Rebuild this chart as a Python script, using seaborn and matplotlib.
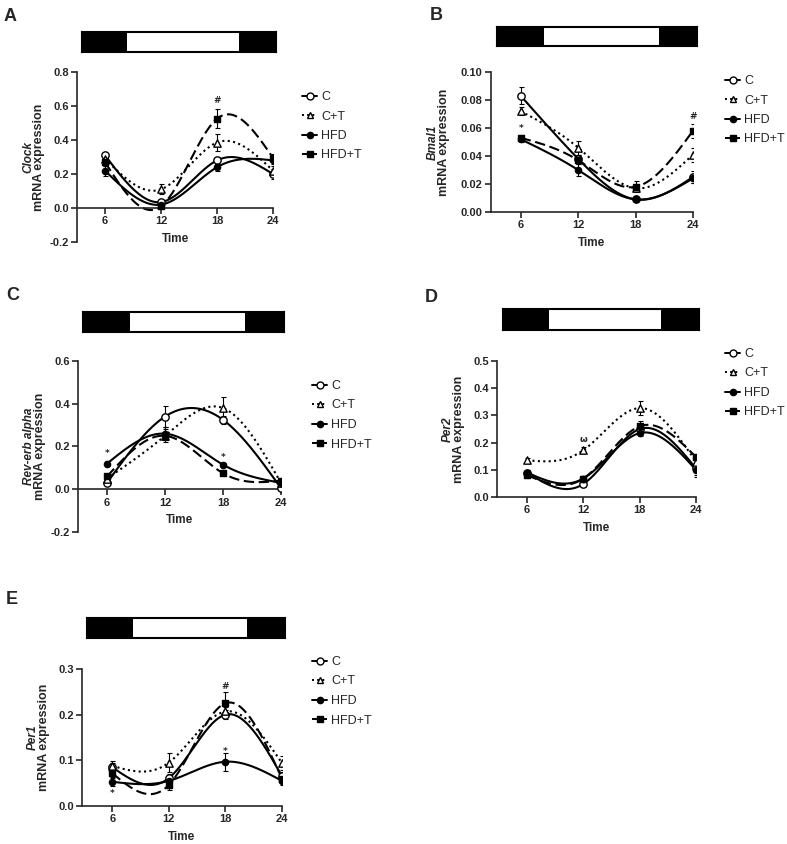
import numpy as np
import pandas as pd
import matplotlib
matplotlib.use("Agg")
import matplotlib.pyplot as plt
import seaborn as sns
from matplotlib.lines import Line2D

# ---- data ----
times = [6, 12, 18, 24]
groups = ["C", "C+T", "HFD", "HFD+T"]

# rows follow `groups`, columns follow `times`
clock_mean = [[0.31, 0.035, 0.28, 0.20],
              [0.29, 0.11, 0.385, 0.22],
              [0.22, 0.02, 0.24, 0.28],
              [0.27, 0.01, 0.525, 0.295]]
clock_sem = [[0.015, 0.01, 0.02, 0.03],
             [0.02, 0.03, 0.05, 0.03],
             [0.03, 0.01, 0.02, 0.02],
             [0.02, 0.01, 0.055, 0.02]]

bmal1_mean = [[0.083, 0.038, 0.009, 0.025],
              [0.072, 0.046, 0.017, 0.041],
              [0.052, 0.030, 0.009, 0.024],
              [0.053, 0.037, 0.018, 0.058]]
bmal1_sem = [[0.006, 0.003, 0.001, 0.004],
             [0.003, 0.005, 0.002, 0.005],
             [0.002, 0.004, 0.001, 0.003],
             [0.002, 0.003, 0.004, 0.005]]

rev_mean = [[0.03, 0.34, 0.325, 0.005],
            [0.05, 0.25, 0.38, 0.03],
            [0.12, 0.26, 0.115, 0.03],
            [0.06, 0.25, 0.075, 0.04]]
rev_sem = [[0.01, 0.05, 0.02, 0.005],
           [0.01, 0.03, 0.05, 0.01],
           [0.01, 0.03, 0.01, 0.01],
           [0.01, 0.02, 0.01, 0.01]]

per2_mean = [[0.09, 0.048, 0.25, 0.105],
             [0.135, 0.172, 0.327, 0.13],
             [0.09, 0.068, 0.235, 0.10],
             [0.08, 0.068, 0.26, 0.147]]
per2_sem = [[0.01, 0.01, 0.02, 0.03],
            [0.01, 0.01, 0.025, 0.02],
            [0.01, 0.01, 0.01, 0.02],
            [0.01, 0.01, 0.02, 0.01]]

per1_mean = [[0.085, 0.061, 0.20, 0.065],
             [0.088, 0.095, 0.207, 0.094],
             [0.053, 0.055, 0.097, 0.055],
             [0.072, 0.046, 0.225, 0.06]]
per1_sem = [[0.01, 0.01, 0.01, 0.01],
            [0.01, 0.02, 0.01, 0.015],
            [0.01, 0.01, 0.02, 0.01],
            [0.01, 0.01, 0.025, 0.01]]

# significance marks: (time, y, symbol)
clock_marks = [(18, 0.63, "#")]
bmal1_marks = [(6, 0.060, "*"), (24, 0.068, "#")]
rev_marks = [(6, 0.165, "*"), (18, 0.15, "*")]
per2_marks = [(12, 0.21, "ω")]
per1_marks = [(6, 0.028, "*"), (18, 0.262, "#"), (18, 0.12, "*")]

# light/dark bar, hours of dark / light / dark
light_dark = [5.6, 13.8, 4.6]

# ---- style ----
sns.set_style("ticks")
plt.rcParams["font.family"] = ["Liberation Sans", "DejaVu Sans"]
plt.rcParams["axes.unicode_minus"] = False

W, H = 787, 844
fig = plt.figure(figsize=(W / 100, H / 100), dpi=100)


def box(l, t, r, b):
    return [l / W, 1 - b / H, (r - l) / W, (b - t) / H]


def natural_spline(x, y, xs):
    # natural cubic spline through the measured points (smooth fit curve)
    x = np.asarray(x, float)
    y = np.asarray(y, float)
    n = len(x)
    h = np.diff(x)
    A = np.zeros((n, n))
    rhs = np.zeros(n)
    A[0, 0] = A[-1, -1] = 1
    for i in range(1, n - 1):
        A[i, i - 1] = h[i - 1]
        A[i, i] = 2 * (h[i - 1] + h[i])
        A[i, i + 1] = h[i]
        rhs[i] = 3 * ((y[i + 1] - y[i]) / h[i] - (y[i] - y[i - 1]) / h[i - 1])
    c = np.linalg.solve(A, rhs)
    b = (y[1:] - y[:-1]) / h - h * (2 * c[:-1] + c[1:]) / 3
    d = (c[1:] - c[:-1]) / (3 * h)
    idx = np.clip(np.searchsorted(x, xs) - 1, 0, n - 2)
    dx = xs - x[idx]
    return y[idx] + b[idx] * dx + c[idx] * dx ** 2 + d[idx] * dx ** 3


line_dash = {"C": "", "C+T": (1, 1.6), "HFD": "", "HFD+T": (5, 2.2)}
mk = {"C": "o", "C+T": "^", "HFD": "o", "HFD+T": "s"}
mk_face = {"C": "white", "C+T": "white", "HFD": "black", "HFD+T": "black"}
mk_size = {"C": 28, "C+T": 28, "HFD": 20, "HFD+T": 24}
ls_legend = {"C": "-", "C+T": ":", "HFD": "-", "HFD+T": "--"}


def panel(letter, letter_xy, gene, ax_box, bar_box, xlim, ylim, yticks, fmt,
          means, sems, marks, legend_xy):
    ax = fig.add_axes(box(*ax_box))

    tt = np.linspace(6, 24, 200)
    rows = []
    for g, m in zip(groups, means):
        rows.append(pd.DataFrame({"Time": tt, "Expr": natural_spline(times, m, tt),
                                  "Group": g}))
    curves = pd.concat(rows)
    sns.lineplot(data=curves, x="Time", y="Expr", hue="Group", style="Group",
                 palette={g: "black" for g in groups}, dashes=line_dash,
                 linewidth=1.5, legend=False, ax=ax, zorder=2)

    for g, m, s in zip(groups, means, sems):
        ax.errorbar(times, m, yerr=s, fmt="none", ecolor="black",
                    elinewidth=0.8, capsize=1.8, capthick=0.8, zorder=2)
        sns.scatterplot(x=times, y=m, marker=mk[g], s=mk_size[g],
                        facecolor=mk_face[g], edgecolor="black", linewidth=1.0,
                        ax=ax, zorder=3)

    for t, y, sym in marks:
        ax.text(t, y, sym, ha="center", va="center", fontsize=6.5,
                fontweight="bold", family=["DejaVu Sans"])

    ax.set_xlim(*xlim)
    ax.set_ylim(*ylim)
    ax.set_xticks(times)
    ax.set_yticks(yticks)
    ax.set_yticklabels([fmt.format(v) for v in yticks])
    ax.set_xlabel("")
    ax.set_ylabel("")
    sns.despine(ax=ax)
    if ylim[0] < 0:
        ax.spines["bottom"].set_position(("data", 0))
    for sp in ("left", "bottom"):
        ax.spines[sp].set_linewidth(1.2)
    ax.tick_params(direction="out", length=4, width=1.2, labelsize=8, pad=2)
    for lab in ax.get_xticklabels() + ax.get_yticklabels():
        lab.set_fontweight("bold")

    # axis labels
    l, t, r, b = ax_box
    zero_px = b - (0 - ylim[0]) / (ylim[1] - ylim[0]) * (b - t)
    fig.text((l + r) / 2 / W, 1 - (zero_px + 31) / H, "Time", ha="center",
             va="center", fontsize=8.5, fontweight="bold")
    yc = 1 - (t + b) / 2 / H
    off = 9 if fmt == "{:.2f}" else 0
    fig.text((l - 49 - off) / W, yc, gene, rotation=90, ha="center", va="center",
             fontsize=8.5, fontweight="bold", style="italic")
    fig.text((l - 38 - off) / W, yc, "mRNA expression", rotation=90, ha="center",
             va="center", fontsize=9, fontweight="bold")

    # light/dark bar
    bax = fig.add_axes(box(*bar_box))
    sns.barplot(x=[light_dark[0]], y=[0], orient="h", color="black", ax=bax,
                width=1, linewidth=0)
    bax.barh(0, light_dark[1], left=light_dark[0], height=1, color="white",
             linewidth=0)
    bax.barh(0, light_dark[2], left=light_dark[0] + light_dark[1], height=1,
             color="black", linewidth=0)
    bax.set_xlim(0, sum(light_dark))
    bax.set_ylim(-0.5, 0.5)
    bax.set_xticks([])
    bax.set_yticks([])
    bax.set_xlabel("")
    bax.set_ylabel("")
    for sp in bax.spines.values():
        sp.set_visible(True)
        sp.set_linewidth(1.5)
        sp.set_color("black")

    fig.text(letter_xy[0] / W, 1 - letter_xy[1] / H, letter, ha="left", va="top",
             fontsize=13, fontweight="bold")

    handles = [Line2D([], [], color="black", linestyle=ls_legend[g], linewidth=1.4,
                      marker=mk[g], markersize=5 if g != "HFD" else 4.5,
                      markerfacecolor=mk_face[g], markeredgecolor="black")
               for g in groups]
    ax.legend(handles, groups, loc="upper left",
              bbox_to_anchor=(legend_xy[0] / W, 1 - legend_xy[1] / H),
              bbox_transform=fig.transFigure, frameon=False, fontsize=9,
              handlelength=1.2, handletextpad=0.35, labelspacing=0.6,
              borderpad=0, borderaxespad=0)
    return ax


panel("A", (4, 8), "Clock", (77, 72, 273, 242), (82, 32, 276, 52), (3, 24),
      (-0.2, 0.8), [-0.2, 0, 0.2, 0.4, 0.6, 0.8], "{:.1f}",
      clock_mean, clock_sem, clock_marks, (302, 91))
panel("B", (430, 7), "Bmal1", (491, 72, 693, 212), (497, 27, 697, 46), (2.9, 24),
      (0, 0.1), [0, 0.02, 0.04, 0.06, 0.08, 0.10], "{:.2f}",
      bmal1_mean, bmal1_sem, bmal1_marks, (725, 75))
panel("C", (6, 287), "Rev-erb alpha", (78, 361, 281, 532), (83, 312, 284, 332), (3, 24),
      (-0.2, 0.6), [-0.2, 0, 0.2, 0.4, 0.6], "{:.1f}",
      rev_mean, rev_sem, rev_marks, (312, 380))
panel("D", (425, 289), "Per2", (497, 361, 696, 497), (503, 309, 699, 330), (2.8, 24),
      (0, 0.5), [0, 0.1, 0.2, 0.3, 0.4, 0.5], "{:.1f}",
      per2_mean, per2_sem, per2_marks, (725, 348))
panel("E", (6, 591), "Per1", (82, 669, 282, 806), (87, 618, 285, 638), (2.8, 24),
      (0, 0.3), [0, 0.1, 0.2, 0.3], "{:.1f}",
      per1_mean, per1_sem, per1_marks, (312, 656))

fig.savefig("out.png", dpi=100)
